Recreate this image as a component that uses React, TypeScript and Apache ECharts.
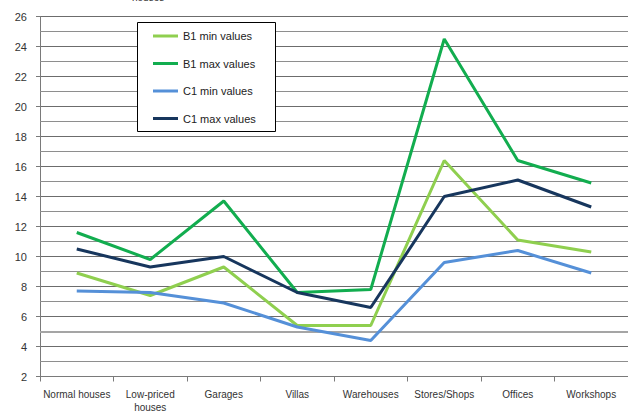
import React, { useEffect, useRef } from "react";
import * as echarts from "echarts";

// Property categories (x axis)
const categories: string[] = [
  "Normal houses",
  "Low-priced\nhouses",
  "Garages",
  "Villas",
  "Warehouses",
  "Stores/Shops",
  "Offices",
  "Workshops",
];

// Series values per category
const b1MinValues: number[] = [8.9, 7.4, 9.3, 5.4, 5.4, 16.4, 11.1, 10.3];
const b1MaxValues: number[] = [11.6, 9.8, 13.7, 7.6, 7.8, 24.5, 16.4, 14.9];
const c1MinValues: number[] = [7.7, 7.6, 6.9, 5.3, 4.4, 9.6, 10.4, 8.9];
const c1MaxValues: number[] = [10.5, 9.3, 10.0, 7.6, 6.6, 14.0, 15.1, 13.3];

// Value axis range
const yMin = 2;
const yMax = 26;
const yStep = 2;

// Unlabelled gridline levels between the labelled ticks
const minorLevels: number[] = [3, 5, 7, 9, 11, 13, 15, 17, 19, 21, 23, 25];
// Highlighted reference level
const referenceLevel = 5;

const seriesNames = ["B1 min values", "B1 max values", "C1 min values", "C1 max values"];
const seriesColors = ["#8fcf4f", "#12ad4f", "#5590d8", "#17365d"];
const seriesValues = [b1MinValues, b1MaxValues, c1MinValues, c1MaxValues];

const FONT = "'Liberation Sans', Arial, sans-serif";

export default function App() {
  const ref = useRef<HTMLDivElement>(null);

  useEffect(() => {
    if (!ref.current) return;
    const chart = echarts.init(ref.current, null, { renderer: "svg" });

    const series: any[] = seriesNames.map((name, i) => ({
      name,
      type: "line",
      data: seriesValues[i],
      symbol: "none",
      lineStyle: { color: seriesColors[i], width: 3 },
      itemStyle: { color: seriesColors[i] },
      z: 3,
    }));
    // lighter gridlines on the odd levels, with the reference level drawn thicker
    series[0].markLine = {
      silent: true,
      symbol: "none",
      z: 1,
      label: { show: false },
      lineStyle: { color: "#8e8e8e", width: 1, type: "solid", opacity: 1 },
      data: minorLevels.map((v) =>
        v === referenceLevel
          ? { yAxis: v, lineStyle: { color: "#a5a5a5", width: 2, type: "solid", opacity: 1 } }
          : { yAxis: v }
      ),
    };

    chart.setOption({
      animation: false,
      backgroundColor: "#ffffff",
      textStyle: { fontFamily: FONT },
      grid: { left: 40, right: 0, top: 16.5, bottom: 39.5, containLabel: false },
      legend: {
        orient: "vertical",
        left: 153,
        top: 29,
        padding: 0,
        itemWidth: 25,
        itemHeight: 3,
        itemGap: 13.5,
        icon: "rect",
        z: 6,
        textStyle: { fontSize: 11, color: "#222", lineHeight: 14, fontFamily: FONT },
        data: seriesNames,
      },
      graphic: [
        {
          type: "rect",
          z: 5,
          shape: { x: 137.5, y: 22.5, width: 138, height: 109 },
          style: { fill: "#ffffff", stroke: "#000000", lineWidth: 1 },
        },
        {
          type: "text",
          left: 132,
          top: -8,
          style: { text: "houses", fontSize: 10, fill: "#333", fontFamily: FONT },
        },
      ],
      xAxis: {
        type: "category",
        data: categories,
        boundaryGap: true,
        z: 2,
        axisLine: { show: true, lineStyle: { color: "#7a7a7a", width: 1 } },
        axisTick: { show: true, length: 5, lineStyle: { color: "#7a7a7a" } },
        axisLabel: {
          interval: 0,
          margin: 11,
          fontSize: 10,
          color: "#333",
          lineHeight: 13,
          fontFamily: FONT,
        },
        splitLine: { show: false },
      },
      yAxis: {
        type: "value",
        min: yMin,
        max: yMax,
        interval: yStep,
        axisLine: { show: true, lineStyle: { color: "#7a7a7a", width: 1 } },
        axisTick: { show: true, length: 4, lineStyle: { color: "#7a7a7a" } },
        axisLabel: { margin: 13, fontSize: 11, color: "#333", fontFamily: FONT },
        splitLine: { show: true, lineStyle: { color: "#6c6c6c", width: 1 } },
      },
      series,
    });

    return () => chart.dispose();
  }, []);

  return (
    <div
      ref={ref}
      style={{ position: "fixed", left: 0, top: 0, width: 628, height: 416, background: "#fff" }}
    />
  );
}
